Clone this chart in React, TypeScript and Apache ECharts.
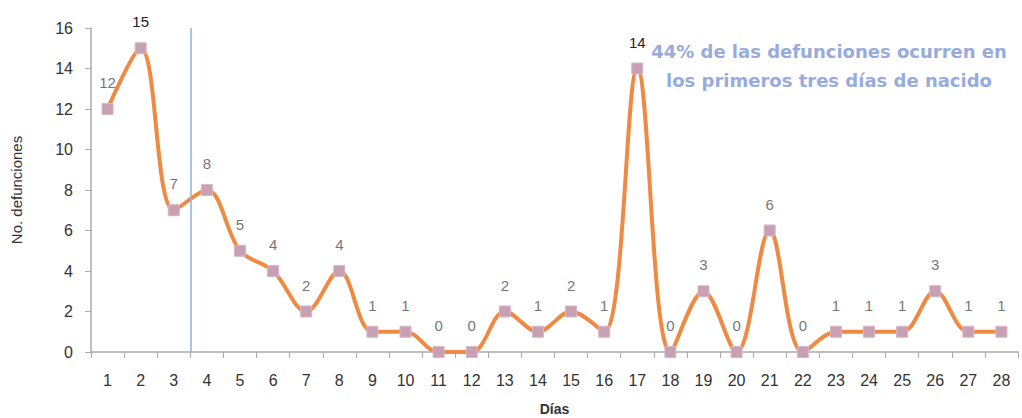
import React, { useEffect, useRef } from "react";
import * as echarts from "echarts";

const days = ["1","2","3","4","5","6","7","8","9","10","11","12","13","14","15","16","17","18","19","20","21","22","23","24","25","26","27","28"];
const deaths = [12, 15, 7, 8, 5, 4, 2, 4, 1, 1, 0, 0, 2, 1, 2, 1, 14, 0, 3, 0, 6, 0, 1, 1, 1, 3, 1, 1];
const darkLabelDays = ["2", "17"];
const yTicks = { min: 0, max: 16, interval: 2 };
const dividerAt = 3.5;
const noteLines = ["44% de las defunciones ocurren en", "los primeros tres días de nacido"];

export default function App() {
  const ref = useRef<HTMLDivElement>(null);
  useEffect(() => {
    if (!ref.current) return;
    const chart = echarts.init(ref.current, undefined, { renderer: "svg" });
    chart.setOption({
      animation: false,
      backgroundColor: "#ffffff",
      grid: { left: 91, right: 4, top: 28, bottom: 66, containLabel: false, outerBoundsMode: "none" },
      xAxis: [
        {
          type: "category",
          data: days,
          boundaryGap: true,
          name: "Días",
          nameLocation: "middle",
          nameGap: 50,
          nameTextStyle: { fontFamily: "Liberation Sans", fontSize: 14, fontWeight: "bold", color: "#333" },
          axisLine: { lineStyle: { color: "#aaaaaa", width: 1.5 } },
          axisTick: { show: true, length: 6, lineStyle: { color: "#aaaaaa" } },
          axisLabel: { fontFamily: "Liberation Sans", fontSize: 16, color: "#333", margin: 20 },
        },
        { type: "value", min: 0.5, max: 28.5, show: false },
      ],
      yAxis: {
        type: "value",
        min: yTicks.min,
        max: yTicks.max,
        interval: yTicks.interval,
        name: "No. defunciones",
        nameLocation: "middle",
        nameGap: 67,
        nameTextStyle: { fontFamily: "Liberation Sans", fontSize: 15, color: "#333" },
        axisLine: { show: true, lineStyle: { color: "#aaaaaa", width: 1.5 } },
        axisTick: { show: true, length: 6, lineStyle: { color: "#aaaaaa" } },
        axisLabel: { fontFamily: "Liberation Sans", fontSize: 16, color: "#333", margin: 18 },
        splitLine: { show: false },
      },
      series: [
        {
          type: "line",
          data: deaths.map((v, i) => ({
            value: v,
            label: { color: darkLabelDays.includes(days[i]) ? "#222" : "#777" },
          })),
          smooth: 0.35,
          symbol: "rect",
          symbolSize: 11,
          lineStyle: { color: "#EE8A42", width: 4 },
          itemStyle: { color: "#C8A0B4", borderColor: "#D9B5C6", borderWidth: 1 },
          label: { show: true, position: "top", distance: 13, fontFamily: "Liberation Sans", fontSize: 15 },
          z: 3,
        },
        {
          type: "line",
          xAxisIndex: 1,
          data: [],
          markLine: {
            silent: true,
            symbol: "none",
            label: { show: false },
            lineStyle: { color: "#8DB4DD", type: "solid", width: 1.5 },
            data: [{ xAxis: dividerAt }],
          },
        },
      ],
      graphic: [
        {
          type: "text",
          x: 829,
          y: 37,
          style: {
            text: noteLines.join("\n"),
            align: "center",
            fontFamily: "DejaVu Sans",
            fontSize: 18,
            fontWeight: "bold",
            lineHeight: 29,
            fill: "#97ABDD",
          },
        },
      ],
    });
    return () => chart.dispose();
  }, []);
  return (
    <div
      ref={ref}
      style={{ position: "absolute", left: 0, top: 0, width: 1022, height: 418 }}
    />
  );
}
